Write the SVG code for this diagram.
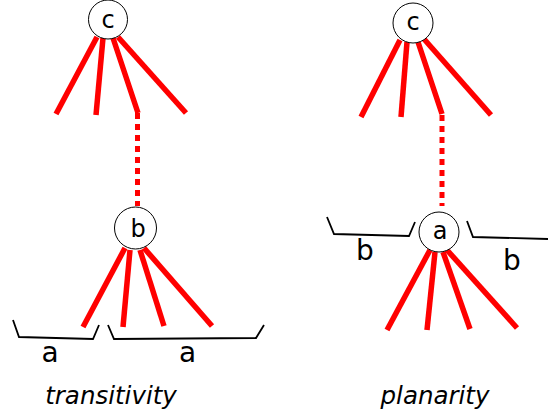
<svg xmlns="http://www.w3.org/2000/svg" width="548" height="416" viewBox="0 0 548 416">
<style>
.edge{stroke:#ff0000;stroke-width:5.5;fill:none;stroke-linecap:butt}
.dot{stroke:#ff0000;stroke-width:5;fill:none;stroke-dasharray:6,5}
.br{stroke:#000;stroke-width:1.8;fill:none}
.node{fill:#fff;stroke:#000;stroke-width:1}
.nl{font-family:"DejaVu Sans",sans-serif;font-size:24px;text-anchor:middle;fill:#000}
.bl{font-family:"DejaVu Sans",sans-serif;font-size:28px;text-anchor:middle;fill:#000}
.cap{font-family:"DejaVu Sans",sans-serif;font-size:24.5px;font-style:italic;text-anchor:middle;fill:#000}
</style>
<rect width="548" height="416" fill="#fff"/>
<g id="connectors">
<line class="edge" x1="97" y1="37" x2="56" y2="114"/>
<line class="edge" x1="103" y1="38" x2="96" y2="115"/>
<polyline class="edge" points="113,38 138,113"/>
<line class="dot" x1="137.5" y1="113" x2="137.5" y2="206"/>
<line class="edge" x1="118" y1="37" x2="186" y2="113"/>
<line class="edge" x1="125" y1="248" x2="83" y2="327"/>
<line class="edge" x1="130" y1="250" x2="123" y2="327"/>
<line class="edge" x1="140" y1="250" x2="164" y2="326"/>
<line class="edge" x1="144" y1="248" x2="212" y2="326"/>
<line class="edge" x1="400" y1="40" x2="361" y2="117"/>
<line class="edge" x1="407" y1="42" x2="401" y2="117"/>
<line class="edge" x1="418" y1="42" x2="442" y2="114"/>
<line class="dot" x1="442" y1="115" x2="442" y2="206"/>
<line class="edge" x1="424" y1="39" x2="491" y2="115"/>
<line class="edge" x1="430" y1="250" x2="387" y2="330"/>
<line class="edge" x1="435" y1="252" x2="427" y2="330"/>
<line class="edge" x1="443" y1="252" x2="470" y2="329"/>
<line class="edge" x1="447" y1="250" x2="517" y2="328"/>
</g>
<g id="brackets">
<polyline class="br" points="13,320 19,337 93,339 99,325"/>
<polyline class="br" points="108,325 114,339 256,338 264,325"/>
<polyline class="br" points="327,217 334,234 409,236 415,222"/>
<polyline class="br" points="467,221 473,237 548,239"/>
</g>
<g id="node-c1">
<circle class="node" cx="108" cy="19.5" r="19.5"/>
<text class="nl" x="108" y="27.5">c</text>
</g>
<g id="node-b1">
<circle class="node" cx="135.5" cy="228" r="21"/>
<text class="nl" x="138" y="237">b</text>
</g>
<g id="node-c2">
<circle class="node" cx="413" cy="23" r="20"/>
<text class="nl" x="413" y="30">c</text>
</g>
<g id="node-a2">
<circle class="node" cx="439" cy="232" r="20"/>
<text class="nl" x="440" y="239">a</text>
</g>
<g id="labels">
<text class="bl" x="50" y="362">a</text>
<text class="bl" x="187.5" y="362">a</text>
<text class="bl" x="365" y="260">b</text>
<text class="bl" x="512" y="270">b</text>
<text class="cap" x="111" y="404">transitivity</text>
<text class="cap" x="435" y="404">planarity</text>
</g>
</svg>
